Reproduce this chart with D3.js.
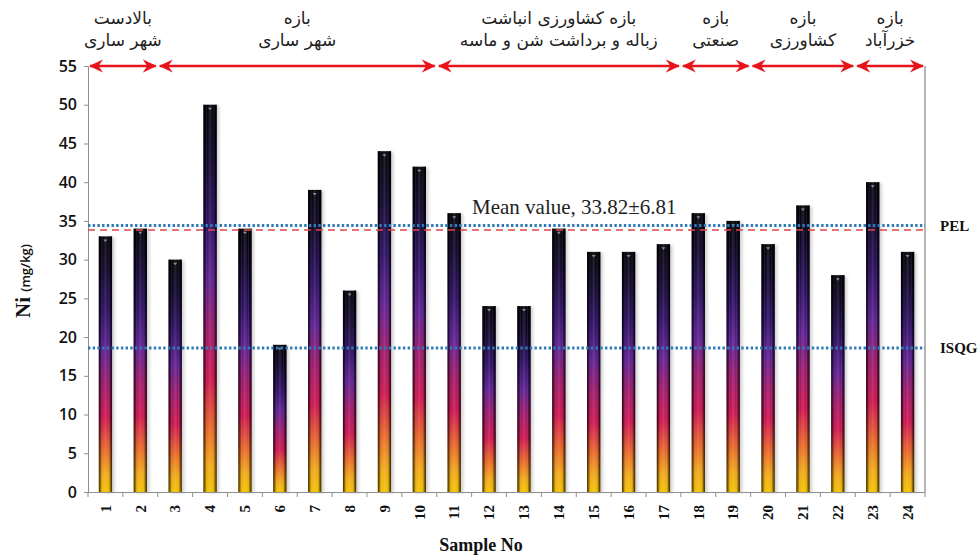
<!DOCTYPE html>
<html>
<head>
<meta charset="utf-8">
<script src="https://cdn.jsdelivr.net/npm/d3@7/dist/d3.min.js"></script>
<style>
  html, body { margin: 0; padding: 0; background: #fff; }
  svg { display: block; }
</style>
</head>
<body>
<svg id="chart" width="979" height="557"></svg>
<script>
// Nickel concentration per sampling station
const samples = ["1","2","3","4","5","6","7","8","9","10","11","12","13","14","15","16","17","18","19","20","21","22","23","24"];
const niValues = [33, 34, 30, 50, 34, 19, 39, 26, 44, 42, 36, 24, 24, 34, 31, 31, 32, 36, 35, 32, 37, 28, 40, 31];
const yTicks = [0, 5, 10, 15, 20, 25, 30, 35, 40, 45, 50, 55];

// River reaches: first and last sample of each, with two-line titles
const reachStart = ["1", "3", "11", "18", "20", "23"];
const reachEnd   = ["2", "10", "17", "19", "22", "24"];
const reachLine1 = ["بالادست", "بازه", "بازه کشاورزی انباشت", "بازه", "بازه", "بازه"];
const reachLine2 = ["شهر ساری", "شهر ساری", "زباله و برداشت شن و ماسه", "صنعتی", "کشاورزی", "خزرآباد"];

// Sediment quality guidelines and the mean
const pelValue = 34.4;
const isqgValue = 18.6;
const meanValue = 33.82;
const meanSd = 6.81;

const svg = d3.select("#chart");
const plotLeft = 88, plotRight = 925, plotTop = 66, plotBottom = 492;

const x = d3.scaleBand().domain(samples).range([plotLeft, plotRight])
  .paddingInner(0.62).paddingOuter(0.31);
const y = d3.scaleLinear().domain([0, 55]).range([plotBottom, plotTop]);
const step = x.step();
const bandStart = s => x(s) - step * 0.31;
const bandEnd = s => x(s) + x.bandwidth() + step * 0.31;

const defs = svg.append("defs");
const vg = defs.append("linearGradient").attr("id", "barFill")
  .attr("x1", 0).attr("y1", 1).attr("x2", 0).attr("y2", 0);
[[0, "#f2c000"], [0.07, "#f0a818"], [0.17, "#e6642a"], [0.29, "#cc1650"],
 [0.42, "#9c1a6a"], [0.55, "#5d2090"], [0.70, "#2d1062"], [0.86, "#11072c"], [1, "#050209"]]
  .forEach(([o, c]) => vg.append("stop").attr("offset", o).attr("stop-color", c));

const hg = defs.append("linearGradient").attr("id", "barBevel")
  .attr("x1", 0).attr("y1", 0).attr("x2", 1).attr("y2", 0);
[[0, "#000", 0.75], [0.16, "#000", 0.3], [0.3, "#fff", 0.0], [0.5, "#fff", 0.12],
 [0.7, "#fff", 0.0], [0.84, "#000", 0.3], [1, "#000", 0.8]]
  .forEach(([o, c, a]) => hg.append("stop").attr("offset", o).attr("stop-color", c).attr("stop-opacity", a));

defs.append("filter").attr("id", "soft").attr("x", "-50%").attr("width", "200%")
  .append("feGaussianBlur").attr("stdDeviation", 1.6);

const marker = defs.append("marker").attr("id", "arrowHead")
  .attr("viewBox", "0 0 14 14").attr("refX", 13).attr("refY", 7)
  .attr("markerWidth", 14).attr("markerHeight", 14).attr("markerUnits", "userSpaceOnUse")
  .attr("orient", "auto-start-reverse");
marker.append("path").attr("d", "M14,7 L0,0.5 L4.5,7 L0,13.5 Z").attr("fill", "#e8141b");

// Bars
const bars = svg.append("g");
samples.forEach((s, i) => {
  const bx = x(s), bw = x.bandwidth(), by = y(niValues[i]), bh = y(0) - y(niValues[i]);
  bars.append("rect").attr("x", bx + 2.5).attr("y", by + 1).attr("width", bw).attr("height", bh)
    .attr("fill", "#9a9a9a").attr("opacity", 0.45).attr("filter", "url(#soft)");
  bars.append("rect").attr("x", bx).attr("y", by).attr("width", bw).attr("height", bh)
    .attr("fill", "url(#barFill)");
  bars.append("rect").attr("x", bx).attr("y", by).attr("width", bw).attr("height", bh)
    .attr("fill", "url(#barBevel)");
  bars.append("path")
    .attr("d", `M${bx + bw / 2 - 2},${by + 3} L${bx + bw / 2 + 2},${by + 3} L${bx + bw / 2},${by + 5.5} Z`)
    .attr("fill", "#8d8d95");
});

// Axes
const yAxis = svg.append("g").attr("transform", `translate(${plotLeft},0)`)
  .call(d3.axisLeft(y).tickValues(yTicks).tickSize(4).tickPadding(7));
yAxis.select(".domain").attr("stroke", "#8f8f8f");
yAxis.selectAll(".tick line").attr("stroke", "#8f8f8f");
yAxis.selectAll(".tick text").attr("font-family", "'Open Sans', sans-serif")
  .attr("font-weight", 600).attr("font-size", 16).attr("fill", "#111");

const xAxis = svg.append("g").attr("transform", `translate(0,${plotBottom})`)
  .call(d3.axisBottom(x).tickSize(0).tickPadding(0));
xAxis.select(".domain").attr("stroke", "#8f8f8f").attr("d", `M${plotLeft},0.5H${plotRight}`);
xAxis.selectAll(".tick text")
  .attr("transform", "translate(0,13) rotate(-90)")
  .attr("text-anchor", "end").attr("dy", "0.35em").attr("dx", 0)
  .attr("font-family", "'Liberation Serif', 'Times New Roman', serif")
  .attr("font-weight", "bold").attr("font-size", 15).attr("fill", "#111");
// Separator ticks between samples
svg.append("g").selectAll("line").data(samples.concat(["end"])).join("line")
  .attr("x1", (d, i) => i < samples.length ? bandStart(d) : plotRight)
  .attr("x2", (d, i) => i < samples.length ? bandStart(d) : plotRight)
  .attr("y1", plotBottom).attr("y2", plotBottom + 5)
  .attr("stroke", "#8f8f8f");

// Right frame edge
svg.append("line").attr("x1", plotRight).attr("x2", plotRight).attr("y1", plotTop).attr("y2", plotBottom)
  .attr("stroke", "#6f6f6f");

// Reference lines
svg.append("line").attr("x1", plotLeft).attr("x2", plotRight).attr("y1", y(meanValue)).attr("y2", y(meanValue))
  .attr("stroke", "#e0464a").attr("stroke-width", 1.6).attr("stroke-dasharray", "7,5");
[pelValue, isqgValue].forEach(v => {
  svg.append("line").attr("x1", plotLeft).attr("x2", plotRight).attr("y1", y(v)).attr("y2", y(v))
    .attr("stroke", "#2f7ab8").attr("stroke-width", 3).attr("stroke-dasharray", "2.4,2.3");
});

svg.append("text").attr("x", 472).attr("y", y(meanValue) - 16)
  .attr("font-family", "'Liberation Serif', 'Times New Roman', serif").attr("font-size", 21)
  .attr("fill", "#222").text(`Mean value, ${meanValue.toFixed(2)}±${meanSd.toFixed(2)}`);

svg.append("text").attr("x", 940).attr("y", y(pelValue) + 5)
  .attr("font-family", "'Liberation Serif', 'Times New Roman', serif").attr("font-weight", "bold")
  .attr("font-size", 15).attr("fill", "#111").text("PEL");
svg.append("text").attr("x", 940).attr("y", y(isqgValue) + 5)
  .attr("font-family", "'Liberation Serif', 'Times New Roman', serif").attr("font-weight", "bold")
  .attr("font-size", 15).attr("fill", "#111").text("ISQG");

// Reach arrows and titles
const reaches = svg.append("g");
reachStart.forEach((s, i) => {
  const x0 = bandStart(s) + 2, x1 = bandEnd(reachEnd[i]) - 2;
  reaches.append("line").attr("x1", x0).attr("x2", x1).attr("y1", plotTop).attr("y2", plotTop)
    .attr("stroke", "#e8141b").attr("stroke-width", 2.6)
    .attr("marker-start", "url(#arrowHead)").attr("marker-end", "url(#arrowHead)");
  const cx = (x0 + x1) / 2;
  const t = reaches.append("text").attr("text-anchor", "middle")
    .attr("font-family", "'DejaVu Sans', sans-serif").attr("font-size", 17).attr("fill", "#222")
    .attr("direction", "rtl");
  t.append("tspan").attr("x", cx).attr("y", 24).text(reachLine1[i]);
  t.append("tspan").attr("x", cx).attr("y", 46).text(reachLine2[i]);
});

// Axis titles
const yt = svg.append("text").attr("transform", "translate(30,281) rotate(-90)")
  .attr("text-anchor", "middle").attr("fill", "#111");
yt.append("tspan").attr("font-family", "'Liberation Serif', 'Times New Roman', serif")
  .attr("font-size", 21).attr("font-weight", "bold").text("Ni ");
yt.append("tspan").attr("font-family", "'Open Sans', sans-serif")
  .attr("font-size", 13).attr("font-weight", 600).text("(mg/kg)");

svg.append("text").attr("x", 481).attr("y", 551).attr("text-anchor", "middle")
  .attr("font-family", "'Liberation Serif', 'Times New Roman', serif").attr("font-weight", "bold")
  .attr("font-size", 18).attr("fill", "#111").text("Sample No");
</script>
</body>
</html>
